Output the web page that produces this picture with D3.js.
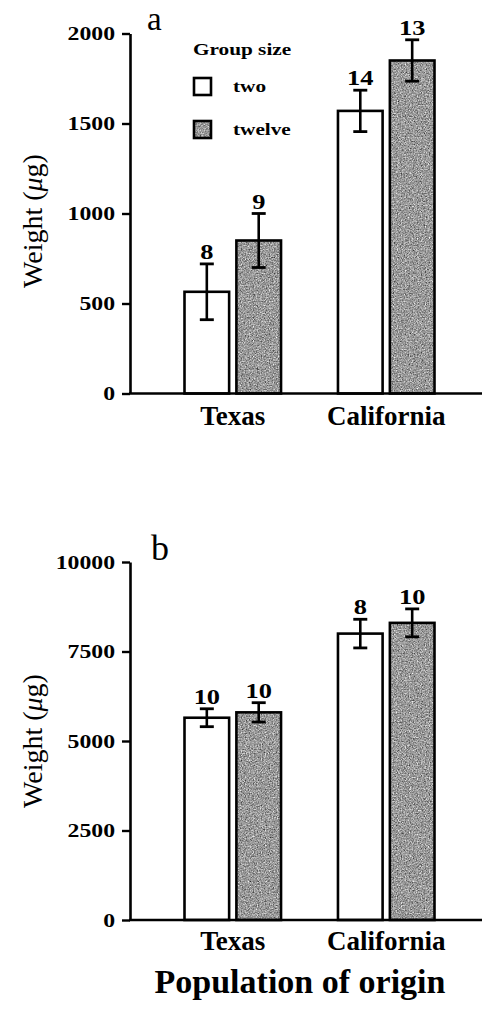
<!DOCTYPE html>
<html><head><meta charset="utf-8">
<script src="https://cdn.jsdelivr.net/npm/d3@7"></script>
<style>body{margin:0;background:#fff}svg{display:block}</style>
</head><body>
<script>
// ---- data ----
const categories = ["Texas", "California"];
const groups = ["two", "twelve"];
const panelA_two = [565, 1570];
const panelA_twelve = [850, 1850];
const errA_two = [155, 115];
const errA_twelve = [150, 115];
const nA_two = [8, 14];
const nA_twelve = [9, 13];
const panelB_two = [5650, 8000];
const panelB_twelve = [5800, 8300];
const errB_two = [250, 400];
const errB_twelve = [270, 390];
const nB_two = [10, 8];
const nB_twelve = [10, 10];
const ticksA = [0, 500, 1000, 1500, 2000];
const ticksB = [0, 2500, 5000, 7500, 10000];

const W = 482, H = 1014;
const FONT = "'Liberation Serif','Times New Roman',serif";
const svg = d3.select("body").append("svg").attr("width", W).attr("height", H);

const defs = svg.append("defs");
const f = defs.append("filter").attr("id", "grain").attr("x", 0).attr("y", 0)
  .attr("width", 1).attr("height", 1).attr("color-interpolation-filters", "sRGB");
f.append("feTurbulence").attr("type", "fractalNoise").attr("baseFrequency", 0.75)
  .attr("numOctaves", 3).attr("seed", 7).attr("result", "t");
f.append("feColorMatrix").attr("in", "t").attr("type", "matrix")
  .attr("values", "0.34 0.33 0.33 0 0  0.34 0.33 0.33 0 0  0.34 0.33 0.33 0 0  0 0 0 0 1")
  .attr("result", "g");
const ct = f.append("feComponentTransfer").attr("in", "g").attr("result", "c");
["feFuncR", "feFuncG", "feFuncB"].forEach(k => ct.append(k).attr("type", "linear").attr("slope", 1.6).attr("intercept", -0.2));
f.append("feComposite").attr("in", "c").attr("in2", "SourceGraphic").attr("operator", "in");

function txt(g, x, y, s, size, opts = {}) {
  const sx = opts.sx || 1;
  return g.append("text")
    .attr("transform", `translate(${x},${y}) scale(${sx},1)` + (opts.rot ? ` rotate(${opts.rot})` : ""))
    .attr("text-anchor", opts.anchor || "middle")
    .attr("font-family", FONT)
    .attr("font-weight", opts.bold ? "bold" : "normal")
    .attr("font-size", size)
    .attr("fill", "#000")
    .text(s);
}

const x = d3.scaleBand().domain(categories).range([184.5, 434.5]).paddingInner(0.371);
const xi = d3.scaleBand().domain(groups).range([0, x.bandwidth()]).paddingInner(0.14);
const AX = 130;

function panel(cfg) {
  const g = svg.append("g");
  const y = d3.scaleLinear().domain([0, cfg.ticks[cfg.ticks.length - 1]]).range(cfg.yr);
  // bars
  const rows = [];
  categories.forEach((c, i) => {
    rows.push({ c, grp: "two", v: cfg.two[i], e: cfg.errTwo[i], n: cfg.nTwo[i] });
    rows.push({ c, grp: "twelve", v: cfg.twelve[i], e: cfg.errTwelve[i], n: cfg.nTwelve[i] });
  });
  rows.forEach(d => {
    const bx = x(d.c) + xi(d.grp), bw = xi.bandwidth();
    if (d.grp === "twelve") {
      g.append("rect").attr("x", bx).attr("y", y(d.v)).attr("width", bw)
        .attr("height", y(0) - y(d.v)).attr("fill", "#999").attr("filter", "url(#grain)");
    }
    g.append("rect").attr("x", bx).attr("y", y(d.v)).attr("width", bw)
      .attr("height", y(0) - y(d.v)).attr("fill", d.grp === "two" ? "#fff" : "none")
      .attr("stroke", "#000").attr("stroke-width", 2.6);
    const cx = bx + bw / 2, hi = y(d.v + d.e), lo = y(d.v - d.e);
    g.append("line").attr("x1", cx).attr("x2", cx).attr("y1", hi).attr("y2", lo)
      .attr("stroke", "#000").attr("stroke-width", 2.6);
    [hi, lo].forEach(yy => g.append("line").attr("x1", cx - 7).attr("x2", cx + 7)
      .attr("y1", yy).attr("y2", yy).attr("stroke", "#000").attr("stroke-width", 2.8));
    txt(g, cx, hi - 5, d.n, 22, { bold: true, sx: 1.2 });
  });
  // y axis
  const ax = g.append("g").attr("transform", `translate(${AX},0)`)
    .call(d3.axisLeft(y).tickValues(cfg.ticks).tickSize(8).tickSizeOuter(0).tickPadding(7).tickFormat(d3.format("d")));
  ax.select(".domain").attr("stroke-width", 2.6);
  ax.selectAll(".tick line").attr("stroke-width", 2.4);
  ax.selectAll(".tick text").attr("font-family", FONT).attr("font-weight", "bold")
    .attr("font-size", 19).attr("x", -15 / 1.25).attr("transform", "scale(1.25,1)");
  // baseline
  g.append("line").attr("x1", AX - 1).attr("x2", W).attr("y1", y(0)).attr("y2", y(0))
    .attr("stroke", "#000").attr("stroke-width", 2.6);
  // category labels
  categories.forEach(c => txt(g, x(c) + x.bandwidth() / 2, cfg.catY, c, 27, { bold: true }));
  // panel letter
  txt(g, cfg.letterX, cfg.letterY, cfg.letter, cfg.letterSize, { anchor: "start" });
  // y label
  const yl = g.append("text")
    .attr("transform", `translate(42,${cfg.ylabY}) rotate(-90)`)
    .attr("text-anchor", "middle").attr("font-family", FONT).attr("font-size", 28);
  yl.append("tspan").text("Weight (");
  yl.append("tspan").attr("font-style", "italic").text("μ");
  yl.append("tspan").text("g)");
  return g;
}

panel({ yr: [393.5, 33.5], ticks: ticksA, two: panelA_two, twelve: panelA_twelve,
  errTwo: errA_two, errTwelve: errA_twelve, nTwo: nA_two, nTwelve: nA_twelve,
  catY: 425, letter: "a", letterX: 147, letterY: 30, letterSize: 33, ylabY: 221 });
panel({ yr: [920, 562], ticks: ticksB, two: panelB_two, twelve: panelB_twelve,
  errTwo: errB_two, errTwelve: errB_twelve, nTwo: nB_two, nTwelve: nB_twelve,
  catY: 950, letter: "b", letterX: 151, letterY: 560, letterSize: 36, ylabY: 741 });

// legend
const lg = svg.append("g");
txt(lg, 193, 55, "Group size", 17, { bold: true, anchor: "start", sx: 1.25 });
const legY = [78, 121];
groups.forEach((gname, i) => {
  if (gname === "twelve") {
    lg.append("rect").attr("x", 194).attr("y", legY[i]).attr("width", 17).attr("height", 17)
      .attr("fill", "#999").attr("filter", "url(#grain)");
  }
  lg.append("rect").attr("x", 194).attr("y", legY[i]).attr("width", 17).attr("height", 17)
    .attr("fill", gname === "two" ? "#fff" : "none").attr("stroke", "#000").attr("stroke-width", 2.6);
  txt(lg, 233, legY[i] + 14, gname, 17, { bold: true, anchor: "start", sx: 1.25 });
});

// x title
txt(svg, 300, 993, "Population of origin", 34, { bold: true });
</script>
</body></html>
